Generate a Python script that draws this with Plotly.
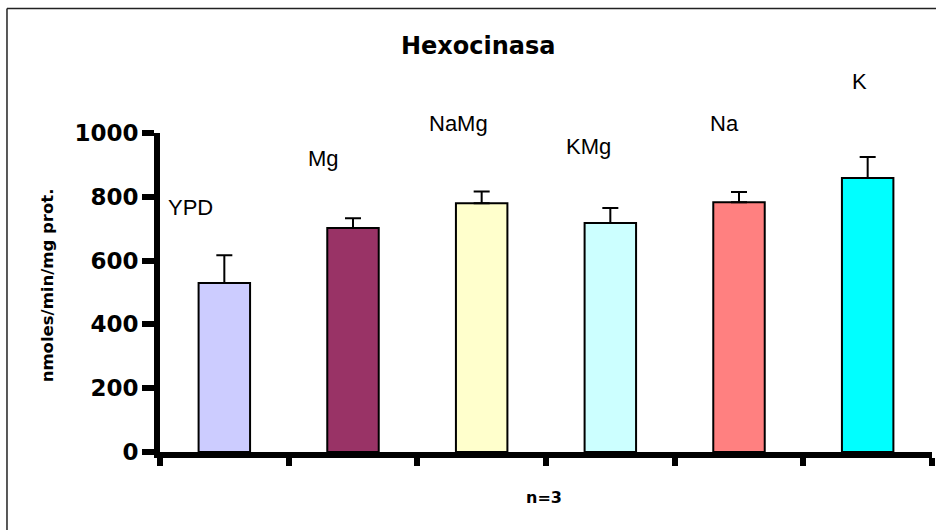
import plotly.graph_objects as go

# Hexokinase activity per growth condition (mean and upper error, n=3)
conditions = ["YPD", "Mg", "NaMg", "KMg", "Na", "K"]
activity = [530, 702, 780, 718, 783, 859]
error_up = [87, 31, 37, 47, 32, 66]
bar_colors = ["#CCCCFF", "#993366", "#FFFFCC", "#CCFFFF", "#FF8080", "#00FFFF"]
y_ticks = [0, 200, 400, 600, 800, 1000]
Y_MAX = 1000

# Free-floating condition labels: horizontal offset from the category centre
# and height in data units
label_dx = [-0.26, -0.23, -0.18, -0.17, -0.11, -0.06]
label_y = [767, 919, 1029, 957, 1029, 1161]

BOLD_FONT = "DejaVu Sans"
LABEL_FONT = "Liberation Sans, Arial, sans-serif"
n_cat = len(conditions)

fig = go.Figure()
fig.add_trace(go.Bar(
    x=list(range(n_cat)),
    y=activity,
    width=0.4,
    marker=dict(color=bar_colors, line=dict(color="black", width=2)),
    error_y=dict(type="data", symmetric=False, array=error_up,
                 arrayminus=[0] * len(error_up),
                 color="black", thickness=2, width=8),
    showlegend=False,
    hoverinfo="x+y",
))

# Labels may sit above the axis range, so place them in paper space
annotations = []
for i, name in enumerate(conditions):
    annotations.append(dict(
        x=(i + label_dx[i] + 0.5) / n_cat, y=label_y[i] / Y_MAX,
        xref="paper", yref="paper",
        text=name, showarrow=False, xanchor="center", yanchor="middle",
        font=dict(family=LABEL_FONT, size=22, color="black"),
    ))

annotations += [
    dict(x=0.4126, y=1.274, xref="paper", yref="paper", text="Hexocinasa",
         showarrow=False, xanchor="center", yanchor="middle",
         font=dict(family=BOLD_FONT, size=24, color="black", weight="bold")),
    dict(x=-0.1457, y=0.521, xref="paper", yref="paper",
         text="nmoles/min/mg prot.", textangle=-90,
         showarrow=False, xanchor="center", yanchor="middle",
         font=dict(family=BOLD_FONT, size=16.5, color="black", weight="bold")),
    dict(x=0.498, y=-0.143, xref="paper", yref="paper", text="n=3",
         showarrow=False, xanchor="center", yanchor="middle",
         font=dict(family=BOLD_FONT, size=16, color="black", weight="bold")),
]

# Outer frame (top and left edges)
shapes = [
    dict(type="line", xref="paper", yref="paper", x0=-0.1982, x1=1.05,
         y0=1.390, y1=1.390, line=dict(color="#222222", width=1.5)),
    dict(type="line", xref="paper", yref="paper", x0=-0.1982, x1=-0.1982,
         y0=1.390, y1=-0.30, line=dict(color="#222222", width=1.5)),
]

fig.update_layout(
    width=936, height=530,
    margin=dict(l=160, r=4, t=133, b=78),
    paper_bgcolor="white", plot_bgcolor="white",
    annotations=annotations,
    shapes=shapes,
)

fig.update_xaxes(
    type="linear", range=[-0.5, n_cat - 0.5],
    tickmode="array", tickvals=[i - 0.5 for i in range(n_cat + 1)],
    showticklabels=False,
    ticks="outside", ticklen=8, tickwidth=6, tickcolor="black",
    showline=True, linewidth=6, linecolor="black",
    showgrid=False, zeroline=False,
)
fig.update_yaxes(
    range=[0, Y_MAX],
    tickmode="array", tickvals=y_ticks, ticktext=[str(v) for v in y_ticks],
    ticks="outside", ticklen=12, tickwidth=6, tickcolor="black",
    tickfont=dict(family=BOLD_FONT, size=23, color="black", weight="bold"),
    ticklabelstandoff=-1,
    showline=True, linewidth=6, linecolor="black",
    showgrid=False, zeroline=False,
)

fig.write_html("out.html")
